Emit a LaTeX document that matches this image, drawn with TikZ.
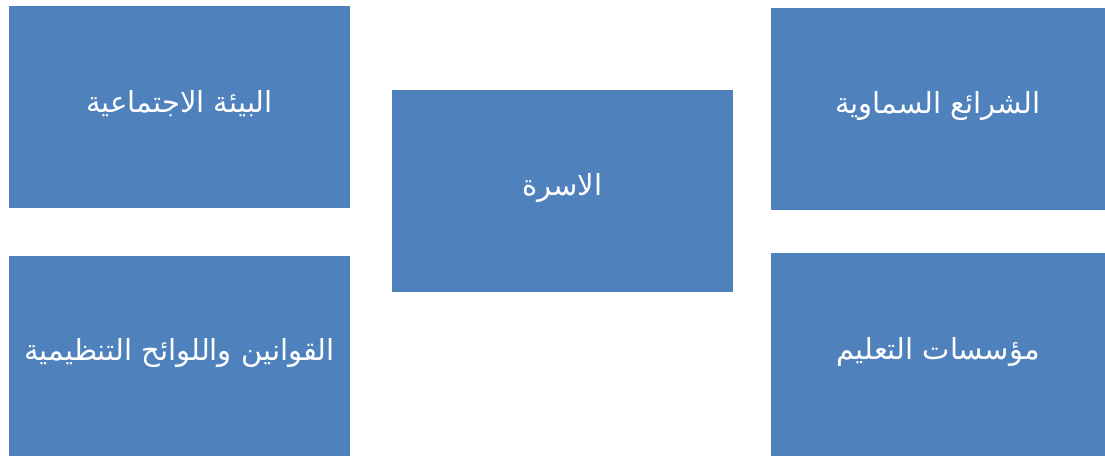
\documentclass[tikz,border=0pt]{standalone}
\usepackage{fontspec}
\TeXXeTstate=1
\newfontfamily\arabicfont[Script=Arabic]{DejaVu Sans}
\definecolor{boxblue}{HTML}{4F81BD}
\tikzset{
  bluebox/.style={fill=boxblue, draw=none, inner sep=0pt, text=white,
    font=\arabicfont\fontsize{29}{34}\selectfont}
}
\begin{document}
\begin{tikzpicture}[x=1pt,y=-1pt]
\useasboundingbox (0,0) rectangle (1105,456);
\fill[boxblue] (9,6) rectangle (350,208);
\node[bluebox] (tl) at (179.5,104) {\beginR البيئة الاجتماعية\endR};
\fill[boxblue] (9,256) rectangle (350,456);
\node[bluebox] (bl) at (179.5,353) {\beginR القوانين واللوائح التنظيمية\endR};
\fill[boxblue] (392,90) rectangle (733,292);
\node[bluebox] (c) at (562.5,188) {\beginR الاسرة\endR};
\fill[boxblue] (771,8) rectangle (1105,210);
\node[bluebox] (tr) at (938,106) {\beginR الشرائع السماوية\endR};
\fill[boxblue] (771,253) rectangle (1105,456);
\node[bluebox] (br) at (938,352) {\beginR مؤسسات التعليم\endR};
\end{tikzpicture}
\end{document}
